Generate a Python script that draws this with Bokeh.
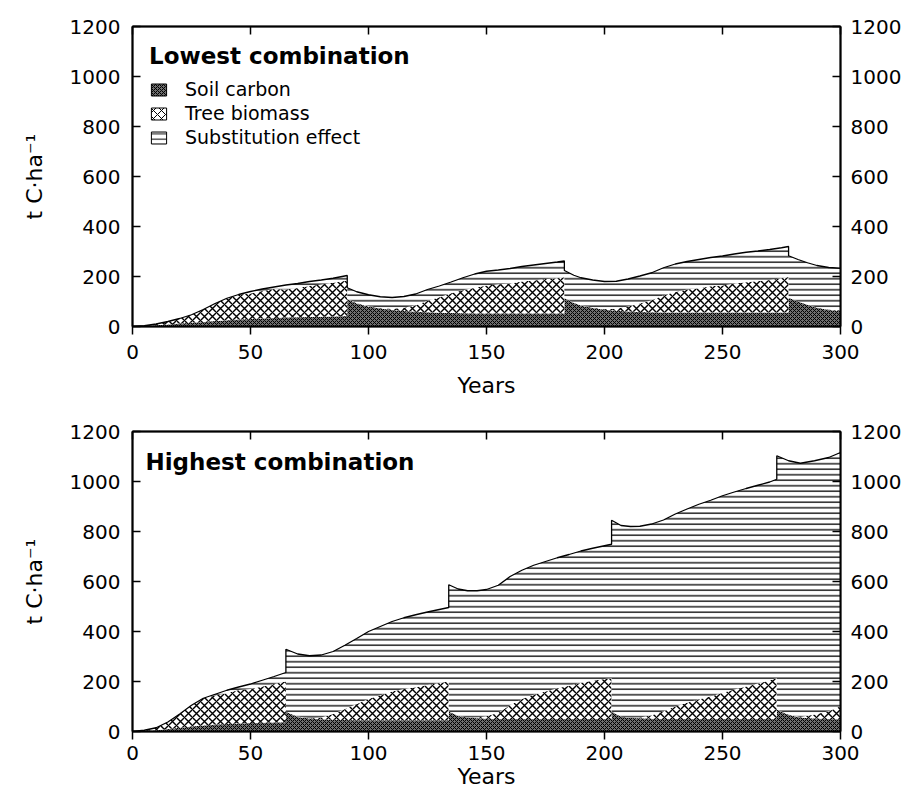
from bokeh.plotting import figure
from bokeh.models import (ColumnDataSource, Range1d, LinearAxis, FixedTicker,
                          Legend, LegendItem, Label)
from bokeh.layouts import column
from bokeh.transform import stack
from bokeh.embed import file_html
from bokeh.resources import INLINE

# ---------------- data ----------------
x_ticks = [0, 50, 100, 150, 200, 250, 300]
y_ticks = [0, 200, 400, 600, 800, 1000, 1200]
series_names = ["Soil carbon", "Tree biomass", "Substitution effect"]
titles = ["Lowest combination", "Highest combination"]

# Lowest combination (harvests at ~91, 183, 278 years)
low_year = [0, 5, 10, 15, 20, 25, 30, 35, 40, 45, 50, 55, 60, 65, 70, 75, 80, 85, 91,
            91, 95, 100, 105, 110, 115, 120, 125, 130, 135, 140, 145, 150, 155, 160, 165, 170, 175, 180, 183,
            183, 187, 190, 195, 200, 205, 210, 215, 220, 225, 230, 235, 240, 245, 250, 255, 260, 265, 270, 275, 278,
            278, 282, 286, 290, 295, 300]
low_soil = [0, 2, 5, 8, 12, 15, 18, 22, 25, 28, 30, 32, 34, 36, 37, 38, 39, 40, 42,
            110, 92, 80, 72, 66, 62, 59, 57, 55, 54, 53, 52, 52, 52, 52, 52, 52, 52, 52, 52,
            114, 94, 84, 74, 67, 63, 60, 58, 57, 56, 56, 56, 56, 56, 56, 56, 56, 56, 56, 56, 56,
            115, 100, 87, 75, 66, 62]
low_tree = [0, 1, 5, 12, 20, 32, 50, 70, 88, 100, 102, 110, 116, 112, 117, 124, 129, 135, 142,
            0, 2, 2, 2, 5, 13, 26, 46, 62, 79, 92, 103, 112, 117, 120, 128, 132, 138, 141, 145,
            0, 1, 1, 2, 3, 8, 20, 34, 48, 69, 82, 92, 97, 105, 108, 116, 121, 126, 130, 137, 142,
            0, 0, 0, 1, 2, 3]
low_subst = [0, 0, 0, 0, 0, 0, 0, 0, 0, 0, 8, 8, 8, 18, 18, 18, 18, 18, 20,
             45, 45, 45, 45, 45, 45, 45, 45, 45, 45, 50, 55, 57, 57, 60, 60, 62, 62, 65, 65,
             110, 110, 110, 110, 110, 110, 110, 110, 110, 110, 112, 112, 115, 115, 118, 118, 120, 120, 122, 122, 122,
             168, 168, 168, 168, 168, 168]

# Highest combination (harvests at ~65, 134, 203, 273 years)
high_year = [0, 5, 10, 15, 20, 25, 30, 35, 40, 45, 50, 55, 60, 65,
             65, 70, 75, 80, 85, 90, 95, 100, 105, 110, 115, 120, 125, 130, 134,
             134, 138, 142, 146, 150, 155, 160, 165, 170, 175, 180, 185, 190, 195, 200, 203,
             203, 207, 211, 215, 220, 225, 230, 235, 240, 245, 250, 255, 260, 265, 270, 273,
             273, 278, 283, 289, 295, 300]
high_soil = [0, 2, 5, 10, 15, 20, 24, 28, 30, 32, 34, 35, 36, 37,
             79, 58, 52, 49, 47, 46, 45, 45, 45, 45, 45, 45, 45, 45, 45,
             80, 62, 56, 53, 51, 50, 50, 50, 50, 50, 50, 50, 50, 50, 50, 50,
             80, 59, 54, 53, 51, 50, 50, 50, 50, 50, 50, 50, 50, 50, 50, 50,
             88, 66, 56, 52, 50, 49]
high_tree = [0, 3, 10, 28, 55, 85, 109, 116, 123, 134, 136, 145, 154, 163,
             0, 2, 1, 7, 23, 44, 65, 85, 100, 115, 125, 132, 141, 149, 155,
             0, 1, 0, 3, 10, 25, 55, 80, 97, 110, 123, 133, 145, 153, 160, 163,
             0, 0, 1, 3, 14, 31, 50, 65, 79, 90, 105, 118, 130, 142, 154, 164,
             0, 2, 2, 16, 31, 52]
high_subst = [0, 0, 0, 0, 0, 0, 0, 5, 12, 12, 20, 25, 30, 36,
              250, 250, 250, 250, 250, 255, 262, 270, 275, 280, 285, 290, 292, 294, 296,
              507, 507, 507, 507, 507, 510, 515, 515, 518, 520, 522, 525, 527, 530, 533, 536,
              765, 765, 765, 765, 765, 765, 770, 775, 780, 785, 788, 790, 792, 793, 794, 795,
              1015, 1015, 1015, 1015, 1015, 1015]

# ---------------- styling ----------------
FONT = "DejaVu Sans"
fills = ["#6e6e6e", "white", "white"]
hatches = ["diagonal_cross", "diagonal_cross", "horizontal_line"]
hscales = [4, 8, 5.5]
hweights = [1.0, 1.4, 1.3]
NAN = float("nan")


def style_axis(ax, label_standoff, tick_in, tick_out):
    ax.axis_line_color = "black"
    ax.axis_line_width = 2
    ax.major_tick_line_color = "black"
    ax.major_tick_line_width = 1.5
    ax.major_tick_in = tick_in
    ax.major_tick_out = tick_out
    ax.minor_tick_line_color = None
    ax.major_label_text_font = FONT
    ax.major_label_text_font_size = "20px"
    ax.major_label_text_color = "black"
    ax.major_label_standoff = label_standoff
    ax.axis_label_text_color = "black"


def make_panel(year, soil, tree, subst, title, height, b_top, b_bottom,
               xl_standoff, xal_standoff, with_legend):
    src = ColumnDataSource(dict(year=year, soil=soil, tree=tree, subst=subst))
    p = figure(width=904, height=height,
               x_range=Range1d(0, 300), y_range=Range1d(0, 1200),
               output_backend="svg", toolbar_location=None,
               min_border_left=132, min_border_right=63,
               min_border_top=b_top, min_border_bottom=b_bottom,
               x_axis_label="Years", y_axis_label="t C·ha⁻¹")
    p.grid.visible = False
    p.outline_line_color = "black"
    p.outline_line_width = 1.5
    p.background_fill_color = "white"
    p.border_fill_color = "white"

    p.varea_stack(["soil", "tree", "subst"], x="year", source=src,
                  fill_color=fills, hatch_pattern=hatches, hatch_scale=hscales,
                  hatch_weight=hweights, hatch_color="black")
    p.line(x="year", y=stack("soil", "tree", "subst"), source=src,
           line_color="black", line_width=1.3)

    # bottom axis
    xa = p.xaxis[0]
    xa.ticker = FixedTicker(ticks=x_ticks)
    style_axis(xa, xl_standoff, 0, 8)
    xa.axis_label_text_font = FONT
    xa.axis_label_text_font_size = "22px"
    xa.axis_label_text_font_style = "normal"
    xa.axis_label_standoff = xal_standoff
    # left axis
    ya = p.yaxis[0]
    ya.ticker = FixedTicker(ticks=y_ticks)
    style_axis(ya, 12, 8, 0)
    ya.axis_label_text_font = FONT
    ya.axis_label_text_font_size = "22px"
    ya.axis_label_text_font_style = "normal"
    ya.axis_label_standoff = 20
    # right axis
    ra = LinearAxis(ticker=FixedTicker(ticks=y_ticks))
    style_axis(ra, 10, 8, 0)
    p.add_layout(ra, "right")
    # top axis (ticks only)
    ta = LinearAxis(ticker=FixedTicker(ticks=x_ticks))
    style_axis(ta, 0, 8, 0)
    ta.major_label_text_color = None
    ta.major_label_text_font_size = "1px"
    p.add_layout(ta, "above")

    if with_legend:
        items = []
        for name, fc, hp, hs in zip(series_names, fills, hatches, hscales):
            r = p.quad(left=[NAN], right=[NAN], top=[NAN], bottom=[NAN], fill_color=fc,
                       hatch_pattern=hp, hatch_scale=hs, hatch_color="black",
                       hatch_weight=1.0, line_color="black", line_width=1)
            items.append(LegendItem(label=name, renderers=[r]))
        leg = Legend(items=items, location="top_left", title=title,
                     title_text_font=FONT, title_text_font_size="23px",
                     title_text_font_style="bold", title_text_color="black",
                     title_standoff=9,
                     label_text_font=FONT, label_text_font_size="19px",
                     label_text_color="black",
                     glyph_width=19, glyph_height=15, label_standoff=17,
                     spacing=2, padding=0, margin=17,
                     border_line_color=None, background_fill_alpha=0)
        p.add_layout(leg)
    else:
        p.add_layout(Label(x=5.5, y=1130, text=title, text_font=FONT,
                           text_font_size="23px", text_font_style="bold",
                           text_baseline="top", text_color="black"))
    return p


p1 = make_panel(low_year, low_soil, low_tree, low_subst, titles[0],
                405, 26, 79, 10, 11, True)
p2 = make_panel(high_year, high_soil, high_tree, high_subst, titles[1],
                390, 26, 64, 6, 1, False)

layout = column(p1, p2, spacing=0)
open("out.html", "w").write(file_html(layout, INLINE))
